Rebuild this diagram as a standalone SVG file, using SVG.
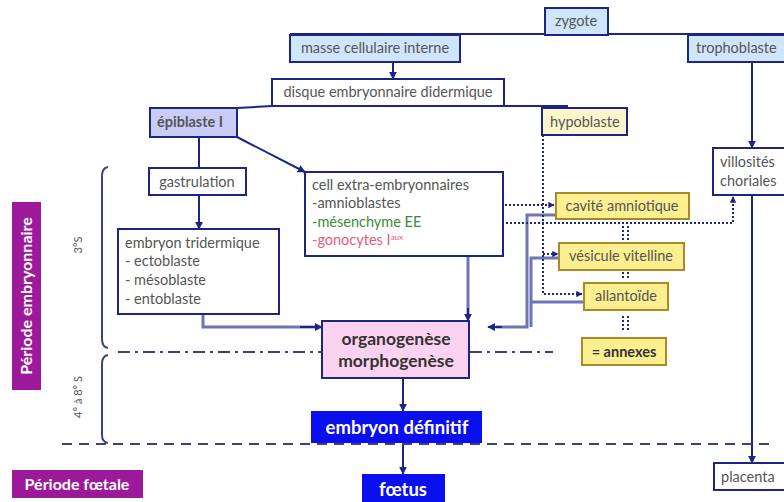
<svg xmlns="http://www.w3.org/2000/svg" width="784" height="502" viewBox="0 0 784 502">
<defs>
<marker id="ar" viewBox="0 0 10 10" refX="9" refY="5" markerWidth="4" markerHeight="4" orient="auto"><path d="M0,0 L10,5 L0,10 z" fill="#1c2585"/></marker>
<marker id="arL" viewBox="0 0 10 10" refX="9" refY="5" markerWidth="3.2" markerHeight="3.2" orient="auto"><path d="M0,0 L10,5 L0,10 z" fill="#1c2585"/></marker>
<style>
text{font-family:Lato,"Liberation Sans",sans-serif;font-size:14.5px;fill:#555}
.b{font-weight:bold}
.big{font-size:17.5px}
.xl{font-size:18.5px}
.per{font-size:16px}
.sm{font-size:11px}
.w{fill:#fff}
.dk{fill:#333}
.g{fill:#3c8a3c}
.r{fill:#e0607a}
.box{stroke:#1c2585;stroke-width:2}
.blue{fill:#cfe6fa}
.wh{fill:#fff}
.yl{fill:#fbef8f;stroke:#a88b28;stroke-width:2}
.ln{fill:none;stroke:#1c2585;stroke-width:2}
.th{fill:none;stroke:#6e74b4;stroke-width:3}
.dt{fill:none;stroke:#1c2585;stroke-width:2;stroke-dasharray:2 2}
.c{text-anchor:middle}
</style>
</defs>
<rect width="784" height="502" fill="#fff"/>

<g id="connectors">
<path class="ln" d="M290,34 H784"/>
<path class="ln" d="M393,62 V79" marker-end="url(#ar)"/>
<path class="ln" d="M272,106 L237,108"/>
<path class="ln" d="M504,106 H568"/>
<path class="ln" d="M199,137 V168"/>
<path class="ln" d="M199,195 V229" marker-end="url(#ar)"/>
<path class="ln" d="M237,137 L305,172" marker-end="url(#ar)"/>
<path class="ln" d="M752,62 V148" marker-end="url(#ar)"/>
<path class="ln" d="M752,195 V463" marker-end="url(#ar)"/>
<path class="th" d="M203,314 V327 H316"/>
<path class="ln" d="M300,327 H322" marker-end="url(#ar)"/>
<path class="th" d="M443,223 H468 V314"/>
<path class="th" d="M430,239 H468"/>
<path class="ln" d="M468,308 V321" marker-end="url(#ar)"/>
<path class="th" d="M556,215 H527 V327 H496"/>
<path class="th" d="M560,258 H531 V327"/>
<path class="th" d="M584,302 H531"/>
<path class="ln" d="M502,327 H488" marker-end="url(#ar)"/>
<path class="dt" d="M437,205 H554" marker-end="url(#arL)"/>
<path class="dt" d="M470,223 H733 V197" marker-end="url(#arL)"/>
<path class="dt" d="M543,135 V294 H582" marker-end="url(#arL)"/>
<path class="dt" d="M543,254 H558" marker-end="url(#arL)"/>
<path class="dt" d="M623,226 V240 M628,226 V240 M623,272 V280 M628,272 V280 M623,316 V332 M628,316 V332" stroke-width="1.5"/>
<path class="ln" d="M403,378 V411" marker-end="url(#ar)"/>
<path class="ln" d="M403,443 V474" marker-end="url(#ar)"/>
<path fill="none" stroke="#3a3f86" stroke-width="2" stroke-dasharray="12 5 3 5" d="M118,352 H322 M470,352 H553"/>
<path fill="none" stroke="#3a3f86" stroke-width="2" stroke-dasharray="10 7" d="M62,444 H776"/>
<path fill="none" stroke="#3a3f86" stroke-width="2" d="M108,167 Q102,168 102,176 V339 Q102,347 108,348 M108,355 Q102,356 102,364 V435 Q102,442 108,443"/>
</g>

<g id="zygote"><rect class="box blue" x="545" y="8" width="63" height="27"/><text class="c" x="576" y="26">zygote</text></g>
<g id="masse"><rect class="box blue" x="290" y="35" width="170" height="27"/><text class="c" x="375" y="53">masse cellulaire interne</text></g>
<g id="trophoblaste"><rect class="box blue" x="688" y="35" width="100" height="27"/><text x="696" y="53">trophoblaste</text></g>
<g id="disque"><rect class="box wh" x="272" y="79" width="232" height="27"/><text class="c" x="388" y="97">disque embryonnaire didermique</text></g>
<g id="epiblaste"><rect class="box" fill="#c9cdf6" x="150" y="108" width="87" height="29"/><text class="b" x="157" y="127">épiblaste I</text></g>
<g id="hypoblaste"><rect class="box" fill="#fdf6cc" x="542" y="108" width="85" height="27"/><text x="550" y="127">hypoblaste</text></g>
<g id="gastrulation"><rect class="box wh" x="149" y="168" width="97" height="27"/><text class="c" x="197" y="187">gastrulation</text></g>
<g id="tridermique"><rect class="box wh" x="118" y="229" width="161" height="85"/>
<text x="125" y="248">embryon tridermique</text><text x="125" y="266">- ectoblaste</text><text x="125" y="285">- mésoblaste</text><text x="125" y="304">- entoblaste</text></g>
<g id="cellEE"><rect class="box wh" x="305" y="172" width="198" height="84"/>
<text x="312" y="190">cell extra-embryonnaires</text><text x="312" y="208">-amnioblastes</text>
<text class="g" x="312" y="227">-mésenchyme EE</text>
<text class="r" x="312" y="245">-gonocytes I<tspan style="font-size:8px" dy="-5">aux</tspan></text></g>
<g id="cavite"><rect class="yl" x="556" y="193" width="133" height="26"/><text class="c" x="622" y="211">cavité amniotique</text></g>
<g id="vesicule"><rect class="yl" x="559" y="243" width="125" height="27"/><text class="c" x="621" y="261">vésicule vitelline</text></g>
<g id="allantoide"><rect class="yl" x="584" y="283" width="84" height="27"/><text class="c" x="626" y="301">allantoïde</text></g>
<g id="annexes"><rect class="yl" x="582" y="338" width="84" height="27"/><text class="c b dk" x="624" y="357">= annexes</text></g>
<g id="villosites"><rect class="box wh" x="713" y="148" width="75" height="47"/><text x="720" y="167">villosités</text><text x="720" y="186">choriales</text></g>
<g id="placenta"><rect class="box wh" x="714" y="463" width="74" height="27"/><text x="721" y="482">placenta</text></g>
<g id="organogenese"><rect class="box" fill="#fcd2f1" x="322" y="321" width="147" height="57"/>
<text class="c b big dk" x="396" y="345">organogenèse</text><text class="c b big dk" x="396" y="367">morphogenèse</text></g>
<g id="definitif"><rect fill="#0a0ff0" x="311" y="411" width="171" height="32"/><text class="c b xl w" x="397" y="434">embryon définitif</text></g>
<g id="foetus"><rect fill="#0a0ff0" x="362" y="474" width="83" height="30"/><text class="c b xl w" x="403" y="496">fœtus</text></g>
<g id="periode-embryonnaire"><rect fill="#9c1a9a" x="12" y="202" width="29" height="188"/><text class="c b w per" transform="translate(32,296) rotate(-90)">Période embryonnaire</text></g>
<g id="periode-foetale"><rect fill="#9c1a9a" x="12" y="470" width="131" height="28"/><text class="c b w per" x="77" y="490">Période fœtale</text></g>
<g id="labels">
<text class="c sm" transform="translate(82,245) rotate(-90)">3°S</text>
<text class="c sm" transform="translate(82,397) rotate(-90)">4° à 8° S</text>
</g>
</svg>
